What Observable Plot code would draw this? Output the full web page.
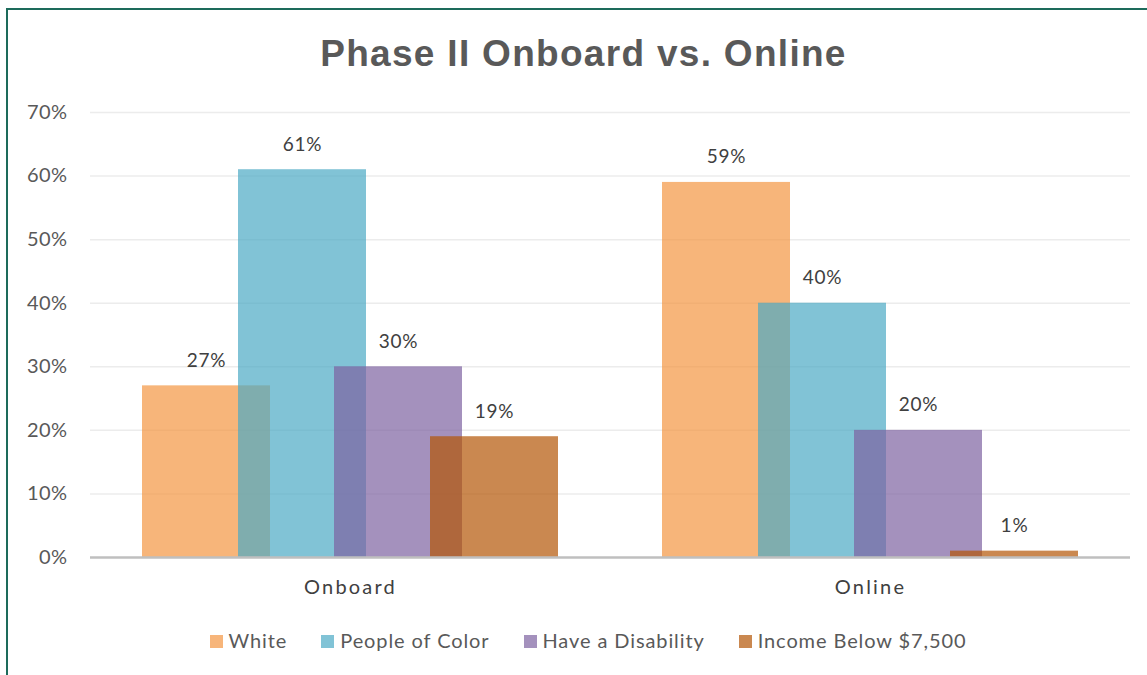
<!DOCTYPE html>
<html><head><meta charset="utf-8">
<script src="https://cdn.jsdelivr.net/npm/d3@7"></script>
<script src="https://cdn.jsdelivr.net/npm/@observablehq/plot@0.6"></script>
<style>
html,body{margin:0;padding:0;background:#fff;width:1147px;height:675px;overflow:hidden;}
#frame{position:absolute;left:6px;top:8px;width:1160px;height:700px;border:2px solid #1d6b5b;box-sizing:border-box;}
#title{position:absolute;left:0;width:1167px;top:33px;text-align:center;font-family:"Liberation Sans",Arial,sans-serif;font-weight:bold;font-size:37px;color:#595959;letter-spacing:1.3px;}
#chart{position:absolute;left:0;top:0;}
#legend{position:absolute;left:0;width:1176px;top:628px;text-align:center;font-family:Lato,sans-serif;font-size:20px;color:#595959;letter-spacing:0.9px;white-space:nowrap;}
#legend span.item{display:inline-block;margin:0 17px;}
#legend span.sw{display:inline-block;width:13px;height:13px;margin-right:6px;vertical-align:0px;}
#chart g[aria-label="fx-axis tick label"] text{letter-spacing:2.2px;}
#chart g[aria-label="y-axis tick label"] text{letter-spacing:0.4px;}
#chart g[aria-label="text"] text{letter-spacing:0.8px;}
</style></head>
<body>
<div id="frame"></div>
<div id="title">Phase II Onboard vs. Online</div>
<div id="chart"></div>
<div id="legend"></div>
<script>
const groups = ["Onboard", "Online"];
const series = ["White", "People of Color", "Have a Disability", "Income Below $7,500"];
const colors = ["#F49642", "#4BA9C4", "#7E62A1", "#B35505"];
const onboardValues = [0.27, 0.61, 0.30, 0.19];
const onlineValues = [0.59, 0.40, 0.20, 0.01];
const yTicks = [0, 0.1, 0.2, 0.3, 0.4, 0.5, 0.6, 0.7];

const data = [];
series.forEach((s, i) => data.push({group: groups[0], series: s, value: onboardValues[i]}));
series.forEach((s, i) => data.push({group: groups[1], series: s, value: onlineValues[i]}));

const pct = d3.format(".0%");
const plot = Plot.plot({
  width: 1147,
  height: 610,
  marginTop: 112,
  marginBottom: 53,
  marginLeft: 90,
  marginRight: 17,
  style: {fontFamily: "Lato, sans-serif", fontSize: "19px", color: "#595959", background: "transparent"},
  fx: {domain: groups, padding: 0, label: null, axis: null},
  x: {domain: series, paddingInner: 0, paddingOuter: 0.7083, axis: null},
  y: {domain: [0, 0.7], ticks: yTicks, tickFormat: pct, label: null},
  color: {domain: series, range: colors},
  marks: [
    Plot.ruleY(yTicks.slice(1), {stroke: "#ECECEC", strokeWidth: 1.5}),
    Plot.axisY(yTicks, {tickSize: 0, tickPadding: 23, tickFormat: pct, fontSize: 20, fill: "#595959"}),
    Plot.axisFx({anchor: "bottom", tickSize: 0, tickPadding: 22, fontSize: 20, fill: "#404040", label: null}),
    Plot.barY(data, {fx: "group", x: "series", y: "value", fill: "series", fillOpacity: 0.7, insetLeft: -16, insetRight: -16}),
    Plot.ruleY([0], {stroke: "#BFBFBF", strokeWidth: 2.5}),
    Plot.text(data, {fx: "group", x: "series", y: "value", text: d => pct(d.value), lineAnchor: "bottom", dy: -19, fontSize: 19, fill: "#404040"})
  ]
});
document.getElementById("chart").appendChild(plot);

const legend = document.getElementById("legend");
series.forEach((s, i) => {
  const item = document.createElement("span");
  item.className = "item";
  const sw = document.createElement("span");
  sw.className = "sw";
  sw.style.background = colors[i];
  sw.style.opacity = 0.7;
  item.appendChild(sw);
  item.appendChild(document.createTextNode(s));
  legend.appendChild(item);
});
</script>
</body></html>
